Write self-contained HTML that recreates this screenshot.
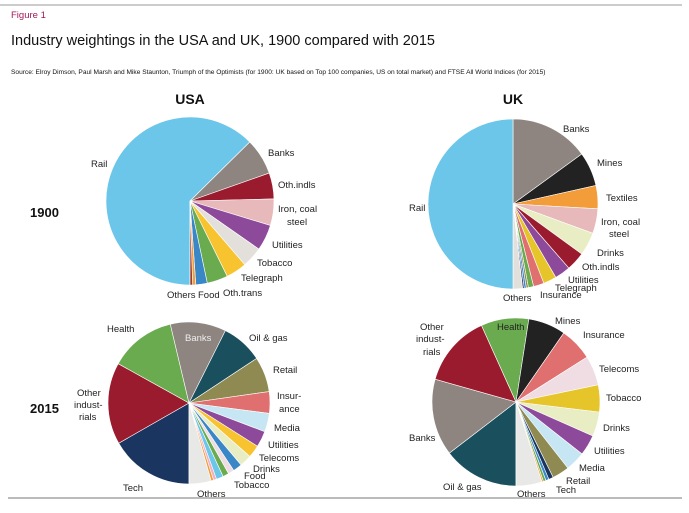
<!DOCTYPE html>
<html><head><meta charset="utf-8"><style>
body{margin:0;background:#fff;font-family:"Liberation Sans",sans-serif}
svg text{font-family:"Liberation Sans",sans-serif}
</style></head><body>
<svg id="chart" width="689" height="508" viewBox="0 0 689 508" xmlns="http://www.w3.org/2000/svg">
<line x1="0" y1="5" x2="682" y2="5" stroke="#999" stroke-width="1"/>
<line x1="8" y1="498" x2="682" y2="498" stroke="#777" stroke-width="1"/>
<text x="11" y="18" font-size="9.5" fill="#a0185a">Figure 1</text>
<text x="11" y="45" font-size="14.5" fill="#111">Industry weightings in the USA and UK, 1900 compared with 2015</text>
<text x="11" y="74" font-size="6.6" fill="#111">Source: Elroy Dimson, Paul Marsh and Mike Staunton, Triumph of the Optimists (for 1900: UK based on Top 100 companies, US on total market) and FTSE All World Indices (for 2015)</text>
<text x="190" y="104" font-size="14" font-weight="bold" text-anchor="middle" fill="#111">USA</text>
<text x="513" y="104" font-size="14" font-weight="bold" text-anchor="middle" fill="#111">UK</text>
<text x="30" y="217" font-size="13" font-weight="bold" fill="#111">1900</text>
<text x="30" y="413" font-size="13" font-weight="bold" fill="#111">2015</text>
<g id="pies"></g>
<g id="labels" font-size="9.5" fill="#222" text-anchor="start"></g>
</svg>
<script>
// Data: percentages, drawn clockwise from the start angle (degrees from 12 o'clock)
const usa1900Labels = ["Rail","Banks","Oth.indls","Iron, coal steel","Utilities","Tobacco","Telegraph","Oth.trans","Food","Others","Others2"];
const usa1900Values = [62.6,7.0,5.0,5.1,5.0,4.0,4.0,4.0,2.2,0.6,0.5];
const usa1900Colors = ["#6cc6e9","#8e8580","#9b1b2e","#e8b9bb","#8e4a9a","#e3e0dc","#f7c42f","#6aab4f","#3a87c8","#f39c3a","#9b3a2e"];

const uk1900Labels = ["Banks","Mines","Textiles","Iron, coal steel","Drinks","Oth.indls","Utilities","Telegraph","Insurance","Green","Olive","Blue","Navy","Others","Rail"];
const uk1900Values = [15.0,6.5,4.4,4.7,4.4,3.6,3.0,2.5,2.0,1.0,0.4,0.4,0.3,1.8,50.0];
const uk1900Colors = ["#8e8580","#222222","#f39c3a","#e8b9bb","#e8edc4","#9b1b2e","#8e4a9a","#e5c52a","#e07070","#6aab4f","#8f8a52","#3a87c8","#1a3560","#e3e0dc","#6cc6e9"];

const usa2015Labels = ["Tech","Other industrials","Health","Banks","Oil & gas","Retail","Insurance","Media","Utilities","Telecoms","Drinks","Food","Tobacco","Green","LightBlue","Pink","Orange","Others"];
const usa2015Values = [16.7,16.3,13.2,11.1,8.3,7.0,4.3,3.7,3.2,2.5,2.4,1.8,1.2,1.2,1.4,0.6,0.5,4.4];
const usa2015Colors = ["#1a3560","#9b1b2e","#6aab4f","#8e8580","#1a4f5e","#8f8a52","#e07070","#c5e6f2","#8e4a9a","#f7c42f","#e8edc4","#3a87c8","#f0dde3","#6aab4f","#6cc6e9","#f0b0c0","#f39c3a","#e8e8e6"];

const uk2015Labels = ["Oil & gas","Banks","Other industrials","Health","Mines","Insurance","Telecoms","Tobacco","Drinks","Utilities","Media","Retail","Tech","Blue","Green","Orange","Others"];
const uk2015Values = [14.6,14.8,13.9,9.2,7.2,6.4,5.7,5.2,4.7,4.0,3.8,3.3,0.9,0.6,0.5,0.3,5.0];
const uk2015Colors = ["#1a4f5e","#8e8580","#9b1b2e","#6aab4f","#222222","#e07070","#f0dde3","#e5c52a","#e8edc4","#8e4a9a","#c5e6f2","#8f8a52","#1a3560","#3a87c8","#6aab4f","#f39c3a","#e8e8e6"];

const NS="http://www.w3.org/2000/svg";
const pies=document.getElementById('pies');
function pt(cx,cy,r,deg){const a=deg*Math.PI/180;return [cx+r*Math.sin(a),cy-r*Math.cos(a)];}
function drawPie(name,cx,cy,r,start,vals,cols,labels){
  const total=vals.reduce((a,b)=>a+b,0);
  const g=document.createElementNS(NS,'g');
  
  
  let a0=start;
  vals.forEach((v,i)=>{
    const sweep=v/total*360, a1=a0+sweep;
    const p0=pt(cx,cy,r,a0), p1=pt(cx,cy,r,a1);
    const path=document.createElementNS(NS,'path');
    path.setAttribute('d',`M${cx},${cy} L${p0[0]},${p0[1]} A${r},${r} 0 ${sweep>180?1:0} 1 ${p1[0]},${p1[1]} Z`);
    path.setAttribute('fill',cols[i]);
    path.setAttribute('stroke','#fff');
    path.setAttribute('stroke-width','0.6');
    
    
    g.appendChild(path);
    a0=a1;
  });
  pies.appendChild(g);
}
drawPie('pie-usa-1900',190,201,84,180,usa1900Values,usa1900Colors,usa1900Labels);
drawPie('pie-uk-1900',513,204,85,0,uk1900Values,uk1900Colors,uk1900Labels);
drawPie('pie-usa-2015',189,403,81,180,usa2015Values,usa2015Colors,usa2015Labels);
drawPie('pie-uk-2015',516,402,84,180,uk2015Values,uk2015Colors,uk2015Labels);

const labelTexts=[
["Rail",91,167],["Banks",268,156],["Oth.indls",278,188],["Iron, coal",278,212],["steel",287,225],["Utilities",272,248],["Tobacco",257,266],["Telegraph",241,281],["Oth.trans",223,296],["Food",198,298],["Others",167,298],
["Rail",409,211],["Banks",563,132],["Mines",597,166],["Textiles",606,201],["Iron, coal",601,225],["steel",609,237],["Drinks",597,256],["Oth.indls",582,270],["Utilities",568,283],["Telegraph",555,291],["Insurance",540,298],["Others",503,301],
["Health",107,332],["Oil & gas",249,341],["Retail",273,373],["Insur-",277,399],["ance",279,412],["Media",274,431],["Utilities",268,448],["Telecoms",259,461],["Drinks",253,472],["Food",244,479],["Tobacco",234,488],["Tech",123,491],["Others",197,497],["Other",77,396],["indust-",74,408],["rials",79,420],
["Other",420,330],["indust-",416,342],["rials",423,355],["Health",497,330],["Mines",555,324],["Insurance",583,338],["Telecoms",599,372],["Tobacco",606,401],["Drinks",603,431],["Utilities",594,454],["Media",579,471],["Retail",566,484],["Tech",556,493],["Oil & gas",443,490],["Others",517,497],["Banks",409,441]
];
const lg=document.getElementById('labels');
labelTexts.forEach(([t,x,y])=>{
  const el=document.createElementNS(NS,'text');
  el.setAttribute('x',x);el.setAttribute('y',y);el.textContent=t;
  
  
  lg.appendChild(el);
});
const b=document.createElementNS(NS,'text');
b.setAttribute('x',185);b.setAttribute('y',341);b.setAttribute('fill','#eee');b.textContent='Banks';


lg.appendChild(b);
</script>
</body></html>
